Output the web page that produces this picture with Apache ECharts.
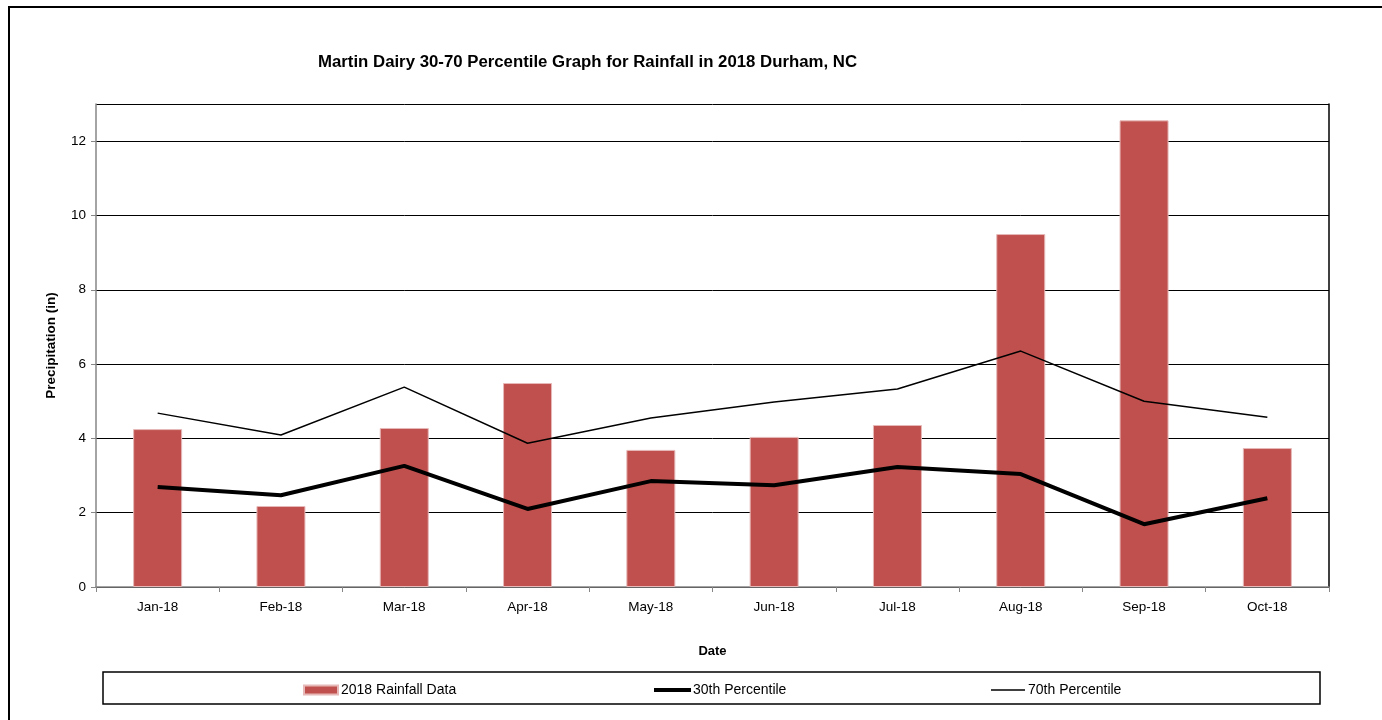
<!DOCTYPE html>
<html>
<head>
<meta charset="utf-8">
<script src="https://cdn.jsdelivr.net/npm/echarts@6/dist/echarts.min.js"></script>
<style>
  html, body { margin: 0; padding: 0; background: #fff; }
  #chart { width: 1382px; height: 720px; }
</style>
</head>
<body>
<div id="chart"></div>
<script>
// chart data
var months = ['Jan-18', 'Feb-18', 'Mar-18', 'Apr-18', 'May-18', 'Jun-18', 'Jul-18', 'Aug-18', 'Sep-18', 'Oct-18'];
var rainfall2018 = [4.25, 2.18, 4.28, 5.49, 3.69, 4.04, 4.36, 9.50, 12.56, 3.74];
var pct30 = [2.69, 2.47, 3.26, 2.10, 2.85, 2.74, 3.23, 3.04, 1.69, 2.39];
var pct70 = [4.68, 4.09, 5.38, 3.87, 4.55, 4.98, 5.33, 6.35, 5.00, 4.57];
var yTicks = [0, 2, 4, 6, 8, 10, 12];

var font = '"Liberation Sans", Arial, sans-serif';

var option = {
  animation: false,
  backgroundColor: '#fff',
  textStyle: { fontFamily: font },
  title: {
    text: 'Martin Dairy 30-70 Percentile Graph for Rainfall in 2018 Durham, NC',
    left: 318,
    top: 54,
    padding: 0,
    textStyle: { fontSize: 16.8, fontWeight: 'bold', color: '#000', fontFamily: font }
  },
  // one legend per item so each sits where it does in the original
  legend: [
    {
      data: ['2018 Rainfall Data'],
      left: 303, top: 683, padding: 0,
      icon: 'rect', itemWidth: 34, itemHeight: 9, itemGap: 0,
      textStyle: { fontSize: 14, color: '#000', padding: [0, 0, 0, -2] }
    },
    {
      data: ['30th Percentile'],
      left: 654, top: 683, padding: 0,
      icon: 'rect', itemWidth: 37, itemHeight: 4, itemGap: 0,
      textStyle: { fontSize: 14, color: '#000', padding: [0, 0, 0, -3] }
    },
    {
      data: ['70th Percentile'],
      left: 991, top: 683, padding: 0,
      icon: 'rect', itemWidth: 34, itemHeight: 1.5, itemGap: 0,
      textStyle: { fontSize: 14, color: '#000', padding: [0, 0, 0, -2] }
    }
  ],
  graphic: [
    // outer frame
    { type: 'rect', shape: { x: 9, y: 7, width: 1400, height: 760 }, style: { fill: 'none', stroke: '#000', lineWidth: 2 }, silent: true },
    // legend box
    { type: 'rect', shape: { x: 103, y: 672, width: 1217, height: 32 }, style: { fill: 'none', stroke: '#000', lineWidth: 1.5 }, silent: true, z: -1 }
  ],
  grid: { left: 96, top: 104, width: 1233, height: 483 },
  xAxis: {
    type: 'category',
    data: months,
    boundaryGap: true,
    name: 'Date',
    nameLocation: 'middle',
    nameGap: 58,
    nameTextStyle: { fontSize: 13, fontWeight: 'bold', color: '#000' },
    axisLine: { lineStyle: { color: '#868686', width: 1.5 } },
    axisTick: { show: true, interval: 0, inside: false, length: 5, lineStyle: { color: '#868686' } },
    axisLabel: { fontSize: 13.5, color: '#000', margin: 13, interval: 0 }
  },
  yAxis: [
    {
      type: 'value',
      min: 0,
      max: 13,
      interval: 2,
      name: 'Precipitation (in)',
      nameLocation: 'middle',
      nameGap: 38,
      nameTextStyle: { fontSize: 13.5, fontWeight: 'bold', color: '#000' },
      axisLine: { show: true, lineStyle: { color: '#868686', width: 1.5 } },
      axisTick: { show: true, length: 5, lineStyle: { color: '#868686' } },
      axisLabel: {
        fontSize: 13.5, color: '#000', margin: 10, showMaxLabel: false,
        formatter: function (v) { return yTicks.indexOf(v) >= 0 ? String(v) : ''; }
      },
      splitLine: { show: true, lineStyle: { color: '#000', width: 1 } }
    },
    {
      // right border of plot area
      type: 'value',
      position: 'right',
      min: 0,
      max: 13,
      interval: 2,
      axisLine: { show: true, lineStyle: { color: '#000', width: 1.5 } },
      axisTick: { show: false },
      axisLabel: { show: false },
      splitLine: { show: false }
    }
  ],
  series: [
    {
      name: '2018 Rainfall Data',
      type: 'bar',
      data: rainfall2018,
      barWidth: 49,
      itemStyle: { color: '#C0504D', borderColor: '#E6B9B8', borderWidth: 1 },
      z: 2
    },
    {
      name: '30th Percentile',
      type: 'line',
      data: pct30,
      symbol: 'none',
      lineStyle: { color: '#000', width: 4 },
      itemStyle: { color: '#000' },
      z: 3
    },
    {
      name: '70th Percentile',
      type: 'line',
      data: pct70,
      symbol: 'none',
      lineStyle: { color: '#000', width: 1.5 },
      itemStyle: { color: '#000' },
      z: 4
    }
  ]
};

var chart = echarts.init(document.getElementById('chart'), null, { renderer: 'canvas' });
chart.setOption(option);
</script>
</body>
</html>
